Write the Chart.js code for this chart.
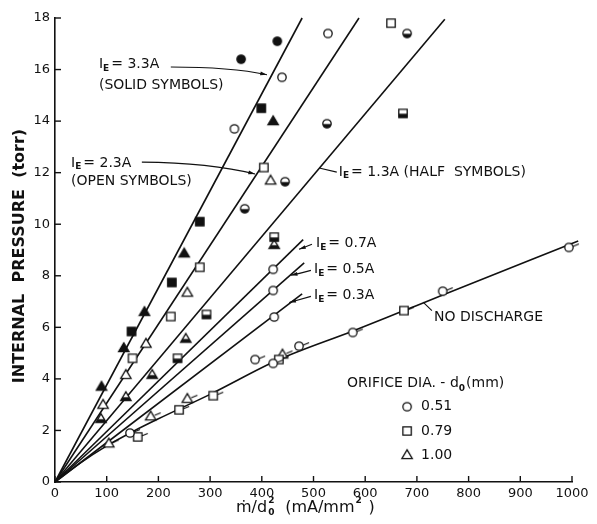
<!DOCTYPE html>
<html>
<head>
<meta charset="utf-8">
<script src="https://cdn.jsdelivr.net/npm/chart.js@4.4.0/dist/chart.umd.min.js"></script>
<style>
  html, body { margin: 0; padding: 0; background: #fff; }
</style>
</head>
<body>
<canvas id="chart" width="597" height="524"></canvas>
<script>
// ---- data ----
const xTickValues = [0, 100, 200, 300, 400, 500, 600, 700, 800, 900, 1000];
const yTickValues = [0, 2, 4, 6, 8, 10, 12, 14, 16, 18];
const orificeDias = ['0.51', '0.79', '1.00'];   // circle, square, triangle

// I_E = 3.3A (solid symbols); dia index into orificeDias
const solidX = [90, 133, 148, 173, 226, 250, 280, 399, 422, 360, 430];
const solidY = [3.7, 5.2, 5.84, 6.6, 7.74, 8.87, 10.1, 14.5, 14.0, 16.4, 17.1];
const solidD = [2, 2, 1, 2, 1, 2, 1, 1, 2, 0, 0];

// I_E = 2.3A (open symbols)
const openX = [93, 137, 150, 176, 224, 256, 280, 404, 417, 347, 439, 528, 650];
const openY = [3.0, 4.16, 4.8, 5.37, 6.42, 7.35, 8.33, 12.2, 11.7, 13.7, 15.7, 17.4, 17.8];
const openD = [2, 2, 1, 2, 1, 2, 1, 1, 2, 0, 0, 0, 1];

// I_E = 1.3A (half symbols)
const halfX = [89, 137, 188, 253, 237, 293, 367, 445, 424, 424, 526, 673, 681];
const halfY = [2.45, 3.3, 4.16, 5.56, 4.8, 6.5, 10.6, 11.65, 9.5, 9.2, 13.9, 14.3, 17.4];
const halfD = [2, 2, 2, 2, 1, 1, 0, 0, 1, 2, 0, 1, 0];

// I_E = 0.7A, 0.5A, 0.3A (open circles)
const lowX = [422, 422, 424];
const lowY = [8.25, 7.43, 6.4];

// no discharge (open symbols with tails)
const noDisX = [104, 145, 160, 185, 240, 256, 306, 387, 422, 433, 440, 472, 576, 675, 750, 994];
const noDisY = [1.5, 1.9, 1.75, 2.55, 2.8, 3.23, 3.35, 4.75, 4.6, 4.75, 4.95, 5.27, 5.8, 6.65, 7.4, 9.1];
const noDisD = [2, 0, 1, 2, 1, 2, 1, 0, 0, 1, 2, 0, 0, 1, 0, 0];

// fitted lines through the origin, end points
const fitCurrents = ['3.3A', '2.3A', '1.3A', '0.7A', '0.5A', '0.3A'];
const fitEndX = [478, 588, 754, 480, 482, 478];
const fitEndY = [18.0, 18.0, 17.95, 9.4, 8.5, 7.3];

// no-discharge curve
const curveX = [0, 50, 100, 150, 200, 300, 433, 575, 675, 750, 1012];
const curveY = [0, 0.75, 1.4, 1.95, 2.45, 3.4, 4.75, 5.85, 6.65, 7.25, 9.35];

// ---- styling ----
const FONT = '"DejaVu Sans", sans-serif';
const INK = '#111';

function marker(shape, fill, tail) {
  const s = tail ? 26 : 14;
  const c = document.createElement('canvas');
  c.width = s; c.height = s;
  const g = c.getContext('2d');
  const m = s / 2;
  const path = () => {
    g.beginPath();
    if (shape === 0) g.arc(m, m, 4.2, 0, Math.PI * 2);
    else if (shape === 1) g.rect(m - 4.2, m - 4.2, 8.4, 8.4);
    else { g.moveTo(m, m - 5.2); g.lineTo(m + 5.2, m + 3.6); g.lineTo(m - 5.2, m + 3.6); g.closePath(); }
  };
  g.lineWidth = 1.3;
  g.strokeStyle = INK;
  path();
  g.fillStyle = fill === 'solid' ? INK : '#fff';
  g.fill();
  if (fill === 'half') {
    g.save(); path(); g.clip();
    g.fillStyle = INK;
    g.fillRect(0, m + 0.3, s, s);
    g.restore();
  }
  path(); g.stroke();
  if (tail) {
    g.beginPath();
    g.moveTo(m + 4, m - 1);
    g.lineTo(m + 10, m - 3.5);
    g.stroke();
  }
  return c;
}

function pointSets(xs, ys, ds, fill, tail) {
  return orificeDias.map((dia, k) => ({
    type: 'scatter',
    label: dia,
    data: xs.map((x, i) => ({ x, y: ys[i] })).filter((p, i) => ds[i] === k),
    pointStyle: marker(k, fill, tail),
    pointRadius: 5,
    showLine: false,
    order: 1,
    clip: false
  }));
}

const datasets = [];
fitCurrents.forEach((cur, i) => {
  datasets.push({
    type: 'scatter', label: 'I_E = ' + cur,
    data: [{ x: 0, y: 0 }, { x: fitEndX[i], y: fitEndY[i] }],
    showLine: true, borderColor: INK, borderWidth: 1.6,
    pointRadius: 0, order: 2, clip: false
  });
});
datasets.push({
  type: 'scatter', label: 'NO DISCHARGE',
  data: curveX.map((x, i) => ({ x, y: curveY[i] })),
  showLine: true, borderColor: INK, borderWidth: 1.6,
  cubicInterpolationMode: 'monotone',
  pointRadius: 0, order: 2, clip: false
});
datasets.push(...pointSets(solidX, solidY, solidD, 'solid', false));
datasets.push(...pointSets(openX, openY, openD, 'open', false));
datasets.push(...pointSets(halfX, halfY, halfD, 'half', false));
datasets.push(...pointSets(lowX, lowY, [0, 0, 0], 'open', false));
datasets.push(...pointSets(noDisX, noDisY, noDisD, 'open', true));

// text placed in data units
const notes = [
  { ie: '3.3A', x: 85, y: 16.19, sub: '(SOLID SYMBOLS)', subY: 15.37,
    arrow: [[224, 16.1], [340, 16.1], [410, 15.8]] },
  { ie: '2.3A', x: 31, y: 12.37, sub: '(OPEN SYMBOLS)', subY: 11.67,
    arrow: [[168, 12.41], [300, 12.38], [387, 11.95]] },
  { ie: '1.3A (HALF  SYMBOLS)', x: 549, y: 12.02, lead: [[545, 12.02], [511, 12.18]] },
  { ie: '0.7A', x: 505, y: 9.26, arrow: [[497, 9.22], [485, 9.12], [472, 9.03]] },
  { ie: '0.5A', x: 501, y: 8.25, arrow: [[495, 8.21], [476, 8.1], [456, 8.02]] },
  { ie: '0.3A', x: 501, y: 7.24, arrow: [[495, 7.2], [474, 7.08], [453, 6.96]] }
];

function drawIE(ctx, x, y, rest) {
  ctx.textAlign = 'left';
  ctx.textBaseline = 'middle';
  ctx.font = '14px ' + FONT;
  ctx.fillText('I', x, y);
  let w = ctx.measureText('I').width;
  ctx.font = 'bold 9px ' + FONT;
  ctx.fillText('E', x + w, y + 4);
  w += ctx.measureText('E').width + 2;
  ctx.font = '14px ' + FONT;
  ctx.fillText('= ' + rest, x + w, y);
}

const paperPlugin = {
  id: 'paper',
  afterDatasetsDraw(chart) {
    const { ctx, scales: { x, y } } = chart;
    const px = v => x.getPixelForValue(v);
    const py = v => y.getPixelForValue(v);
    ctx.save();
    ctx.strokeStyle = INK;
    ctx.fillStyle = INK;

    // inward ticks
    ctx.lineWidth = 1.4;
    xTickValues.forEach(v => {
      ctx.beginPath(); ctx.moveTo(px(v), py(0)); ctx.lineTo(px(v), py(0) - 6); ctx.stroke();
    });
    yTickValues.forEach(v => {
      ctx.beginPath(); ctx.moveTo(px(0), py(v)); ctx.lineTo(px(0) + 6, py(v)); ctx.stroke();
    });

    // annotations
    notes.forEach(n => {
      drawIE(ctx, px(n.x), py(n.y), n.ie);
      if (n.sub) {
        ctx.font = '14px ' + FONT;
        ctx.fillText(n.sub, px(n.x), py(n.subY));
      }
      ctx.lineWidth = 1.1;
      if (n.arrow) {
        const [a, b, c] = n.arrow.map(p => [px(p[0]), py(p[1])]);
        ctx.beginPath(); ctx.moveTo(a[0], a[1]); ctx.quadraticCurveTo(b[0], b[1], c[0], c[1]); ctx.stroke();
        const ang = Math.atan2(c[1] - b[1], c[0] - b[0]);
        ctx.beginPath();
        ctx.moveTo(c[0], c[1]);
        ctx.lineTo(c[0] - 7 * Math.cos(ang - 0.28), c[1] - 7 * Math.sin(ang - 0.28));
        ctx.lineTo(c[0] - 7 * Math.cos(ang + 0.28), c[1] - 7 * Math.sin(ang + 0.28));
        ctx.closePath(); ctx.fill();
      }
      if (n.lead) {
        ctx.beginPath();
        ctx.moveTo(px(n.lead[0][0]), py(n.lead[0][1]));
        ctx.lineTo(px(n.lead[1][0]), py(n.lead[1][1]));
        ctx.stroke();
      }
    });

    // no discharge label
    ctx.font = '14px ' + FONT;
    ctx.textAlign = 'left'; ctx.textBaseline = 'middle';
    ctx.fillText('NO DISCHARGE', px(733), py(6.38));
    ctx.beginPath(); ctx.moveTo(px(729), py(6.65)); ctx.lineTo(px(712), py(6.98)); ctx.stroke();

    // orifice legend
    const lx = px(565), ly = py(3.81);
    ctx.fillText('ORIFICE DIA. - d', lx, ly);
    let w = ctx.measureText('ORIFICE DIA. - d').width;
    ctx.font = 'bold 9px ' + FONT;
    ctx.fillText('0', lx + w, ly + 5);
    w += ctx.measureText('0').width;
    ctx.font = '14px ' + FONT;
    ctx.fillText('(mm)', lx + w + 1, ly);
    const rows = [2.92, 1.98, 1.05];
    orificeDias.forEach((d, k) => {
      const m = marker(k, 'open', false);
      ctx.drawImage(m, px(681) - m.width / 2, py(rows[k]) - m.height / 2);
      ctx.fillText(d, px(708), py(rows[k]));
    });

    // axis titles
    ctx.save();
    ctx.translate(20, 256);
    ctx.rotate(-Math.PI / 2);
    ctx.textAlign = 'center';
    ctx.font = 'bold 16px ' + FONT;
    ctx.fillText('INTERNAL  PRESSURE  (torr)', 0, 0);
    ctx.restore();

    ctx.textAlign = 'left';
    ctx.textBaseline = 'middle';
    const ty = 508;
    let tx = 236;
    ctx.font = '16px ' + FONT;
    ctx.fillText('ṁ/d', tx, ty);
    tx += ctx.measureText('ṁ/d').width;
    ctx.font = 'bold 9px ' + FONT;
    ctx.fillText('2', tx + 1, ty - 7);
    ctx.fillText('0', tx + 1, ty + 5);
    tx += 18;
    ctx.font = '16px ' + FONT;
    ctx.fillText('(mA/mm', tx, ty);
    tx += ctx.measureText('(mA/mm').width;
    ctx.font = 'bold 9px ' + FONT;
    ctx.fillText('2', tx + 1, ty - 7);
    ctx.font = '16px ' + FONT;
    ctx.fillText(' )', tx + 9, ty);

    ctx.restore();
  }
};

new Chart(document.getElementById('chart'), {
  type: 'scatter',
  data: { datasets },
  options: {
    responsive: false,
    animation: false,
    events: [],
    layout: { padding: { top: 18, right: 25, bottom: 0, left: 0 } },
    plugins: { legend: { display: false }, tooltip: { enabled: false } },
    scales: {
      x: {
        type: 'linear', min: 0, max: 1000,
        afterFit: s => { s.height = 42; },
        afterBuildTicks: s => { s.ticks = xTickValues.map(v => ({ value: v })); },
        grid: { display: false, drawTicks: false },
        border: { display: true, color: INK, width: 1.6 },
        ticks: { color: INK, padding: 4, maxRotation: 0, font: { family: FONT, size: 13 },
                 callback: v => String(v) }
      },
      y: {
        type: 'linear', min: 0, max: 18,
        afterFit: s => { s.width = 55; },
        afterBuildTicks: s => { s.ticks = yTickValues.map(v => ({ value: v })); },
        grid: { display: false, drawTicks: false },
        border: { display: true, color: INK, width: 1.6 },
        ticks: { color: INK, padding: 5, font: { family: FONT, size: 13 },
                 callback: v => String(v) }
      }
    }
  },
  plugins: [paperPlugin]
});
</script>
</body>
</html>
